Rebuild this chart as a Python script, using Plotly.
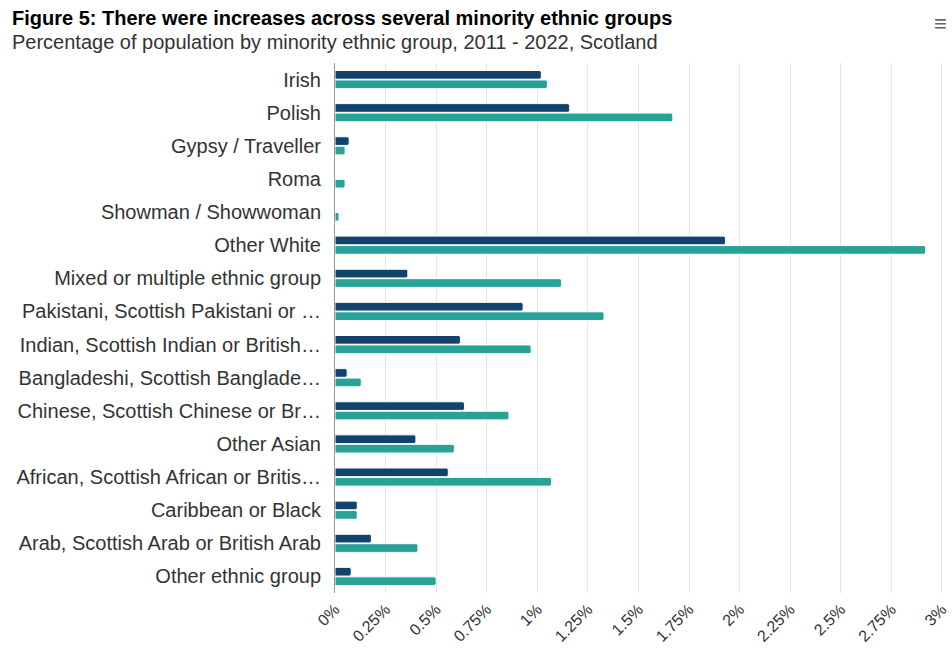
import plotly.graph_objects as go

categories = [
    "Irish", "Polish", "Gypsy / Traveller", "Roma", "Showman / Showwoman",
    "Other White", "Mixed or multiple ethnic group",
    "Pakistani, Scottish Pakistani or British Pakistani",
    "Indian, Scottish Indian or British Indian",
    "Bangladeshi, Scottish Bangladeshi or British Bangladeshi",
    "Chinese, Scottish Chinese or British Chinese",
    "Other Asian",
    "African, Scottish African or British African",
    "Caribbean or Black",
    "Arab, Scottish Arab or British Arab",
    "Other ethnic group",
]
tick_labels = [
    "Irish", "Polish", "Gypsy / Traveller", "Roma", "Showman / Showwoman",
    "Other White", "Mixed or multiple ethnic group",
    "Pakistani, Scottish Pakistani or …",
    "Indian, Scottish Indian or British…",
    "Bangladeshi, Scottish Banglade…",
    "Chinese, Scottish Chinese or Br…",
    "Other Asian",
    "African, Scottish African or Britis…",
    "Caribbean or Black",
    "Arab, Scottish Arab or British Arab",
    "Other ethnic group",
]
values_2011 = [1.02, 1.16, 0.07, 0.0, 0.0, 1.93, 0.36, 0.93, 0.62, 0.06, 0.64, 0.40, 0.56, 0.11, 0.18, 0.08]
values_2022 = [1.05, 1.67, 0.05, 0.05, 0.02, 2.92, 1.12, 1.33, 0.97, 0.13, 0.86, 0.59, 1.07, 0.11, 0.41, 0.50]
x_ticks = [0, 0.25, 0.5, 0.75, 1, 1.25, 1.5, 1.75, 2, 2.25, 2.5, 2.75, 3]
x_tick_labels = ["0%", "0.25%", "0.5%", "0.75%", "1%", "1.25%", "1.5%", "1.75%", "2%", "2.25%", "2.5%", "2.75%", "3%"]

FONT = "Liberation Sans, Arial, sans-serif"
W, H = 952, 650
ML, MR, MT, MB = 335, 0, 63, 57

fig = go.Figure()
fig.add_trace(go.Bar(
    y=categories, x=values_2011, orientation="h", name="2011",
    marker=dict(color="#12436D", line=dict(color="white", width=1)),
))
fig.add_trace(go.Bar(
    y=categories, x=values_2022, orientation="h", name="2022",
    marker=dict(color="#28A197", line=dict(color="white", width=1)),
))


def px2paper(px, py):
    return (px - ML) / (W - ML - MR), 1 + (MT - py) / (H - MT - MB)


tx, ty = px2paper(10, 18)
sx, sy = px2paper(10, 42)
hx, hy = px2paper(940, 24)

fig.update_layout(
    width=W, height=H,
    margin=dict(l=ML, r=MR, t=MT, b=MB, autoexpand=False),
    paper_bgcolor="white", plot_bgcolor="white",
    barmode="group", bargap=0.43, bargroupgap=0.08,
    barcornerradius=2,
    showlegend=False,
    font=dict(family=FONT, color="#333333"),
    annotations=[
        dict(text="<b>Figure 5: There were increases across several minority ethnic groups</b>",
             x=tx, y=ty, xref="paper", yref="paper", showarrow=False,
             xanchor="left", yanchor="middle", font=dict(size=20, color="#000000")),
        dict(text="Percentage of population by minority ethnic group, 2011 - 2022, Scotland",
             x=sx, y=sy, xref="paper", yref="paper", showarrow=False,
             xanchor="left", yanchor="middle", font=dict(size=20, color="#333333")),
        dict(text="≡", x=hx, y=hy, xref="paper", yref="paper", showarrow=False,
             xanchor="center", yanchor="middle", font=dict(size=22, color="#666666")),
    ],
)

fig.update_xaxes(
    range=[0, 3.05], tickvals=x_ticks, ticktext=x_tick_labels,
    tickangle=-45, tickfont=dict(size=16, color="#333333"),
    showgrid=True, gridcolor="#e6e6e6", gridwidth=1,
    zeroline=False, showline=False, ticks="",
    automargin=False, ticklabeloverflow="allow", ticklabelstandoff=3,
)
fig.update_yaxes(
    autorange="reversed", tickvals=categories, ticktext=tick_labels,
    tickfont=dict(size=20, color="#333333"),
    showline=True, linecolor="#999999", linewidth=1,
    showgrid=False, ticks="", ticklabelstandoff=9,
    automargin=False,
)

fig.write_html(
    "out.html",
    config={"displayModeBar": False},
    post_script="document.body.style.margin='0';document.body.style.padding='0';",
)
